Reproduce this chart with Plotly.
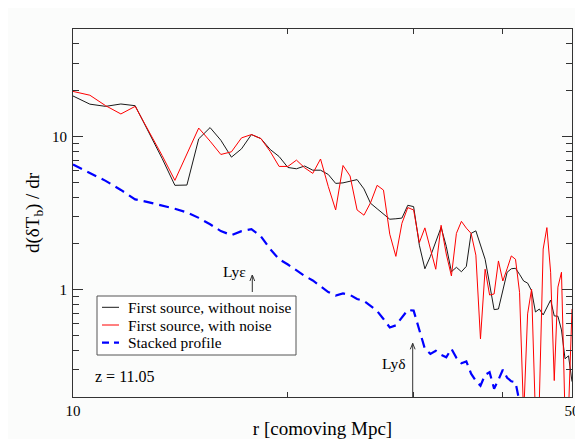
import plotly.graph_objects as go

r = [10.0, 10.56, 11.11, 11.67, 12.22, 12.78, 13.33, 13.89, 14.44, 15.0,
     15.56, 16.11, 16.67, 17.22, 17.78, 18.33, 18.89, 19.44, 20.0, 20.56,
     21.11, 21.67, 22.22, 22.78, 23.33, 23.89, 24.44, 25.0, 25.56, 26.11,
     26.67, 27.22, 27.78, 28.33, 28.89, 29.44, 30.0, 30.56, 31.11, 31.67,
     32.22, 32.78, 33.33, 33.89, 34.44, 35.0, 35.56, 36.11, 36.67, 37.22,
     37.78, 38.33, 38.89, 39.44, 40.0, 40.56, 41.11, 41.67, 42.22, 42.78,
     43.33, 43.89, 44.44, 45.0, 45.56, 46.11, 46.67, 47.22, 47.78, 48.33,
     48.89, 49.44, 50.0]

no_noise = [18.30, 16.19, 15.66, 16.23, 15.82, 10.60, 7.17, 4.79, 4.81, 9.62,
            11.39, 9.42, 7.31, 8.28, 10.26, 9.66, 8.20, 7.38, 6.26, 6.14,
            6.40, 6.01, 6.01, 5.64, 4.93, 4.97, 5.12, 5.22, 4.54, 3.66,
            3.37, 3.10, 2.88, 2.90, 2.93, 3.55, 3.48, 1.95, 1.37, 1.65,
            2.04, 2.55, 1.92, 1.31, 1.40, 1.31, 1.42, 2.33, 2.42, 1.98,
            1.58, 1.09, 0.742, 0.749, 1.01, 1.30, 1.37, 1.38, 1.26, 1.14,
            1.105, 0.985, 0.716, 0.749, 0.685, 0.772, 0.857, 0.675, 0.672, 0.547,
            0.355, 0.371, 0.252]

with_noise = [19.60, 18.51, 15.82, 13.98, 15.66, 10.79, 7.49, 5.16, 7.61, 11.31,
              9.29, 7.61, 7.92, 9.76, 10.26, 9.66, 7.96, 6.36, 6.36, 6.99,
              6.23, 5.73, 7.11, 4.71, 3.31, 6.45, 5.51, 3.31, 3.06, 3.69,
              4.79, 4.46, 2.30, 1.65, 2.71, 3.43, 3.31, 2.03, 2.53, 1.87,
              1.36, 2.63, 1.71, 1.23, 2.33, 2.79, 2.52, 2.33, 1.68, 0.478,
              1.36, 0.924, 0.938, 1.54, 1.14, 1.37, 1.66, 1.58, 0.962, 0.15,
              0.696, 1.01, 0.15, 0.19, 1.84, 2.54, 1.30, 0.256, 1.04, 1.30,
              0.15, 0.16, 0.749]

stacked = [6.55, 5.79, 5.12, 4.47, 3.88, 3.71, 3.55, 3.37, 3.19, 2.94,
           2.67, 2.41, 2.27, 2.41, 2.48, 2.23, 1.84, 1.58, 1.46, 1.34,
           1.23, 1.15, 1.06, 0.966, 0.917, 0.945, 0.924, 0.870, 0.845, 0.784,
           0.727, 0.645, 0.568, 0.586, 0.655, 0.738, 0.731, 0.547, 0.412, 0.382,
           0.400, 0.377, 0.363, 0.412, 0.360, 0.332, 0.341, 0.284, 0.255, 0.237,
           0.279, 0.290, 0.2266, 0.259, 0.301, 0.267, 0.2534, 0.2496, 0.185]
r_stacked = r[:len(stacked)]

series_names = ["First source, without noise", "First source, with noise", "Stacked profile"]
series_colors = ["#1a1a1a", "#ff0000", "#0000ff"]

x_major = [10, 50]
x_minor = [20, 30, 40]
y_major = [1, 10]
y_minor = [0.2, 0.3, 0.4, 0.5, 0.6, 0.7, 0.8, 0.9, 2, 3, 4, 5, 6, 7, 8, 9, 20, 30, 40]

FONT = "Liberation Serif, Times New Roman, serif"
AX = "#333333"

fig = go.Figure()
fig.add_trace(go.Scatter(x=r, y=no_noise, mode="lines",
                         line=dict(color=series_colors[0], width=1),
                         name=series_names[0], showlegend=False))
fig.add_trace(go.Scatter(x=r, y=with_noise, mode="lines",
                         line=dict(color=series_colors[1], width=1),
                         name=series_names[1], showlegend=False))
fig.add_trace(go.Scatter(x=r_stacked, y=stacked, mode="lines",
                         line=dict(color=series_colors[2], width=2.2, dash="10px,6px"),
                         name=series_names[2], showlegend=False))

axis_common = dict(type="log", showline=True, linecolor=AX, linewidth=1,
                   mirror="allticks", ticks="inside", tickcolor=AX,
                   showgrid=False, zeroline=False, automargin=False,
                   tickfont=dict(family=FONT, size=15, color="black"))

fig.update_xaxes(range=[1, 1.69897], tickvals=x_major, ticktext=["10", "50"],
                 ticklen=5,
                 minor=dict(tickvals=x_minor, ticks="inside", ticklen=5, tickcolor=AX),
                 title=dict(text="r [comoving Mpc]", font=dict(family=FONT, size=19, color="black"),
                            standoff=3),
                 **axis_common)
fig.update_yaxes(range=[-0.69897, 1.69897], tickvals=y_major, ticktext=["1", "10"],
                 ticklen=10, ticklabelstandoff=2,
                 minor=dict(tickvals=y_minor, ticks="inside", ticklen=6, tickcolor=AX),
                 title=dict(text="d(δT<sub>b</sub>) / dr", font=dict(family=FONT, size=19, color="black"),
                            standoff=7),
                 **axis_common)

# plot-area pixel helpers (plot area is 499 x 368 px)
def px(xp):
    return (xp - 73) / 499

def py(yp):
    return (397 - yp) / 368

annotations = [
    dict(x=px(248), y=py(271.5), xref="paper", yref="paper",
         text="Lyε", showarrow=False, xanchor="right", yanchor="middle",
         font=dict(family=FONT, size=15.5, color="black")),
    dict(x=px(408), y=py(363), xref="paper", yref="paper",
         text="Lyδ", showarrow=False, xanchor="right", yanchor="middle",
         font=dict(family=FONT, size=15.5, color="black")),
    dict(x=px(93), y=py(376), xref="paper", yref="paper",
         text="z = 11.05", showarrow=False, xanchor="left", yanchor="middle",
         font=dict(family=FONT, size=16, color="black")),
]

shapes = []
# arrows marking the Ly-epsilon and Ly-delta features (open arrowheads)
for ax_x, y_tail, y_head in [(252.3, 292, 275), (412.7, 397, 343.3)]:
    shapes.append(dict(type="line", xref="paper", yref="paper",
                       x0=px(ax_x), x1=px(ax_x), y0=py(y_tail), y1=py(y_head),
                       line=dict(color=AX, width=1), layer="above"))
    for side in (-2.4, 2.4):
        shapes.append(dict(type="line", xref="paper", yref="paper",
                           x0=px(ax_x + side), x1=px(ax_x), y0=py(y_head + 6), y1=py(y_head),
                           line=dict(color=AX, width=1), layer="above"))

# legend drawn as a framed box
shapes.append(dict(type="rect", xref="paper", yref="paper",
                   x0=px(97), x1=px(296), y0=py(355), y1=py(296),
                   line=dict(color="#555555", width=1), fillcolor="white", layer="above"))
rows_y = [307.3, 325, 342.7]
dashes = ["solid", "solid", "7px,5px"]
widths = [1, 1, 2.2]
for name, col, yy, dsh, w in zip(series_names, series_colors, rows_y, dashes, widths):
    shapes.append(dict(type="line", xref="paper", yref="paper",
                       x0=px(102), x1=px(119), y0=py(yy), y1=py(yy),
                       line=dict(color=col, width=w, dash=dsh), layer="above"))
    annotations.append(dict(x=px(127), y=py(yy), xref="paper", yref="paper",
                            text=name, showarrow=False, xanchor="left", yanchor="middle",
                            height=17, borderpad=0,
                            font=dict(family=FONT, size=15.4, color="black")))

# the page body adds an 8 px offset, so margins are shifted by 8 px
fig.update_layout(
    width=575, height=431,
    margin=dict(l=65, r=11, t=21, b=42, autoexpand=False),
    paper_bgcolor="#fbfcfb", plot_bgcolor="#fbfcfb",
    font=dict(family=FONT),
    showlegend=False,
    annotations=annotations,
    shapes=shapes,
)

fig.write_html("out.html")
